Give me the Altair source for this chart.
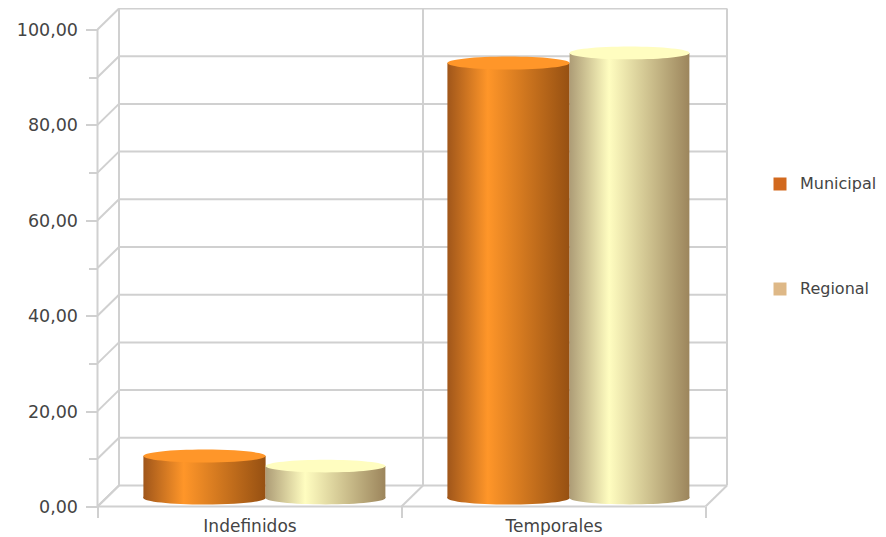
import altair as alt
import pandas as pd

categories = ["Indefinidos", "Temporales"]
series = ["Municipal", "Regional"]
municipal = [8.8, 91.2]
regional = [6.7, 93.3]
y_ticks = [0, 10, 20, 30, 40, 50, 60, 70, 80, 90, 100]

GRID = "#d0d0d0"
TEXT = "#444444"
FONT = "DejaVu Sans"

# layout, in px of the picture
PX_CAT = 304.0
PX_VAL = 4.77
DEPTH_PX_X, DEPTH_PX_Y = 21.5, 21.0
W, H = 629.5, 498.0
DX, DY = DEPTH_PX_X / PX_CAT, DEPTH_PX_Y / PX_VAL
BASE = 8.5 / PX_VAL
x_scale = alt.Scale(domain=[0, W / PX_CAT], nice=False, zero=False)
y_scale = alt.Scale(domain=[0, H / PX_VAL], nice=False, zero=False)

# wall, floor and grid segments
n = len(categories)
segs = []
for v in y_ticks:
    segs.append(dict(x=DX, x2=n + DX, y=v + DY, y2=v + DY))
    segs.append(dict(x=0, x2=DX, y=v, y2=v + DY))
for i in range(n + 1):
    segs.append(dict(x=i + DX, x2=i + DX, y=DY, y2=y_ticks[-1] + DY))
    segs.append(dict(x=i, x2=i + DX, y=0, y2=DY))
segs.append(dict(x=0, x2=0, y=0, y2=y_ticks[-1]))
segs.append(dict(x=0, x2=n, y=0, y2=0))
segs_df = pd.DataFrame(segs)

label_expr = "replace(format(datum.value, '.2f'), '.', ',')"
y_axis = alt.Axis(
    title=None,
    values=y_ticks,
    domain=False,
    grid=False,
    tickColor=GRID,
    tickWidth=2,
    tickSize={"condition": {"test": "datum.value % 20 == 0", "value": 12}, "value": 9},
    labelExpr=f"datum.value % 20 == 0 ? {label_expr} : ''",
    labelFont=FONT,
    labelFontSize=17.5,
    labelColor=TEXT,
    labelPadding=8,
    labelOffset=1,
)
x_axis = alt.Axis(
    title=None,
    values=[0, 0.5, 1, 1.5, 2],
    domain=False,
    grid=False,
    tickColor=GRID,
    tickWidth=2,
    tickSize={"condition": {"test": "datum.value % 1 == 0", "value": 11}, "value": 0},
    labelExpr=f"datum.value == 0.5 ? '{categories[0]}' : datum.value == 1.5 ? '{categories[1]}' : ''",
    labelFont=FONT,
    labelFontSize=17,
    labelColor=TEXT,
    labelPadding=12,
    labelAngle=0,
    labelOverlap=False,
    labelFlush=False,
)

grid = (
    alt.Chart(segs_df)
    .mark_rule(color=GRID, strokeWidth=2)
    .encode(
        x=alt.X("x:Q", scale=x_scale, axis=x_axis),
        x2="x2:Q",
        y=alt.Y("y:Q", scale=y_scale, axis=y_axis),
        y2="y2:Q",
    )
)


def grad(stops):
    return alt.Gradient(
        gradient="linear",
        x1=0, x2=1, y1=0, y2=0,
        stops=[alt.GradientStop(offset=o, color=c) for o, c in stops],
    )


styles = {
    "Municipal": dict(
        side=grad([(0, "#a0561a"), (0.33, "#ff9629"), (1, "#965012")]),
        top="#ff9629",
        span=(0.151, 0.553),
    ),
    "Regional": dict(
        side=grad([(0, "#ad9c76"), (0.33, "#fffdc0"), (1, "#9c855c")]),
        top="#fffdc0",
        span=(0.553, 0.947),
    ),
}
RY = 0.107
BOTTOM = f"M-1,-0.02 L-1,0 A1,{RY} 0 0 0 1,0 L1,-0.02 Z"
TOP = f"M-1,0 A1,{RY} 0 1 1 1,0 A1,{RY} 0 1 1 -1,0 Z"

layers = [grid]
for gi, cat in enumerate(categories):
    for name, vals in zip(series, [municipal, regional]):
        st = styles[name]
        x0, x1 = gi + st["span"][0], gi + st["span"][1]
        row = pd.DataFrame(
            [dict(x=x0, x2=x1, xc=(x0 + x1) / 2, y=BASE, y2=vals[gi] + BASE)]
        )
        size = ((x1 - x0) * PX_CAT) ** 2
        c = alt.Chart(row)
        layers.append(
            c.mark_point(shape=BOTTOM, filled=True, fill=st["side"], opacity=1, size=size, strokeWidth=0)
            .encode(x=alt.X("xc:Q", scale=x_scale), y=alt.Y("y:Q", scale=y_scale))
        )
        layers.append(
            c.mark_rect(fill=st["side"], opacity=1)
            .encode(x=alt.X("x:Q", scale=x_scale), x2="x2:Q", y=alt.Y("y:Q", scale=y_scale), y2="y2:Q")
        )
        layers.append(
            c.mark_point(shape=TOP, filled=True, fill=st["top"], opacity=1, size=size, strokeWidth=0)
            .encode(x=alt.X("xc:Q", scale=x_scale), y=alt.Y("y2:Q", scale=y_scale))
        )

legend_df = pd.DataFrame({"serie": series, "x": [0, 0], "y": [0, 0]})
legend_layer = (
    alt.Chart(legend_df)
    .mark_square(size=0, opacity=1)
    .encode(
        x=alt.X("x:Q", scale=x_scale),
        y=alt.Y("y:Q", scale=y_scale),
        color=alt.Color(
            "serie:N",
            scale=alt.Scale(domain=series, range=["#d2691e", "#deb887"]),
            legend=alt.Legend(
                title=None,
                orient="none",
                legendX=674.5,
                legendY=167.5,
                symbolType="square",
                symbolSize=169,
                symbolStrokeWidth=0,
                symbolOpacity=1,
                labelFont=FONT,
                labelFontSize=16,
                labelColor=TEXT,
                labelOffset=12,
                rowPadding=89,
                labelLimit=200,
            ),
        ),
    )
)
layers.append(legend_layer)

chart = (
    alt.layer(*layers)
    .resolve_scale(x="shared", y="shared")
    .properties(
        width=W,
        height=H,
        autosize="none",
        padding={"left": 89.5, "top": 0.5, "right": 151, "bottom": 28.5},
        background="white",
    )
    .configure_view(stroke=None)
)

chart.save("out.html", embed_options={"renderer": "svg", "actions": False})
